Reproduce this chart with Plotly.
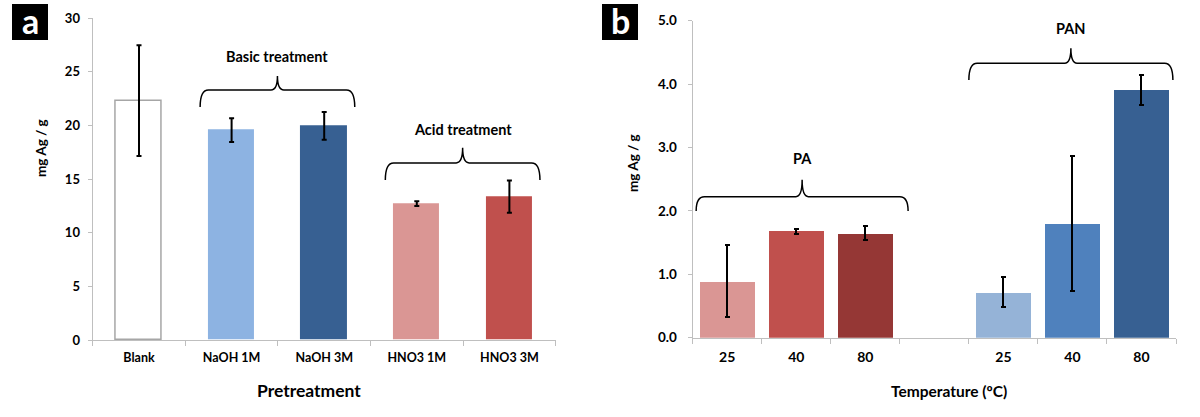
import plotly.graph_objects as go

# ---------------- data ----------------
a_categories = ["Blank", "NaOH 1M", "NaOH 3M", "HNO3 1M", "HNO3 3M"]
a_values = [22.3, 19.55, 19.95, 12.7, 13.35]
a_errors = [5.15, 1.1, 1.3, 0.22, 1.5]
a_colors = ["#FFFFFF", "#8DB3E2", "#376092", "#DA9694", "#C0504D"]

b_labels = ["25", "40", "80", "", "25", "40", "80"]
pa_values = [0.89, 1.68, 1.645]
pa_errors = [0.57, 0.04, 0.11]
pa_colors = ["#DA9694", "#C0504D", "#953735"]
pan_values = [0.715, 1.80, 3.905]
pan_errors = [0.235, 1.065, 0.24]
pan_colors = ["#95B3D7", "#4F81BD", "#376092"]

a_yticks = [0, 5, 10, 15, 20, 25, 30]
b_yticks = [0, 1, 2, 3, 4, 5]

FONT = "Lato"
AXIS_GRAY = "#bfbfbf"

fig = go.Figure()

# panel a bars
a_x = list(range(len(a_categories)))
fig.add_trace(go.Bar(
    x=a_x, y=a_values, width=0.5,
    marker=dict(color=a_colors,
                line=dict(color=["#a6a6a6", "rgba(0,0,0,0)", "rgba(0,0,0,0)", "rgba(0,0,0,0)", "rgba(0,0,0,0)"],
                          width=1.5)),
    error_y=dict(type="data", array=a_errors, color="black", thickness=2, width=2.5),
    xaxis="x", yaxis="y", showlegend=False, hoverinfo="skip"))

# panel b bars
pa_x = [0, 1, 2]
pan_x = [4, 5, 6]
fig.add_trace(go.Bar(
    x=pa_x, y=pa_values, width=0.8, marker=dict(color=pa_colors, line=dict(width=0)),
    error_y=dict(type="data", array=pa_errors, color="black", thickness=2, width=2.5),
    xaxis="x2", yaxis="y2", showlegend=False, hoverinfo="skip"))
fig.add_trace(go.Bar(
    x=pan_x, y=pan_values, width=0.8, marker=dict(color=pan_colors, line=dict(width=0)),
    error_y=dict(type="data", array=pan_errors, color="black", thickness=2, width=2.5),
    xaxis="x2", yaxis="y2", showlegend=False, hoverinfo="skip"))


def brace(x0, x1, yend, ymid, ytop, rx, rc):
    xc = (x0 + x1) / 2
    return (f"M {x0},{yend} Q {x0},{ymid} {x0 + rx},{ymid} "
            f"L {xc - rc},{ymid} Q {xc},{ymid} {xc},{ytop} "
            f"Q {xc},{ymid} {xc + rc},{ymid} "
            f"L {x1 - rx},{ymid} Q {x1},{ymid} {x1},{yend}")


shapes = [
    dict(type="path", xref="x", yref="y",
         path=brace(0.66, 2.33, 21.7, 23.3, 24.6, 0.09, 0.07),
         line=dict(color="black", width=1.5)),
    dict(type="path", xref="x", yref="y",
         path=brace(2.66, 4.33, 14.9, 16.5, 17.9, 0.09, 0.07),
         line=dict(color="black", width=1.5)),
    dict(type="path", xref="x2", yref="y2",
         path=brace(-0.45, 2.62, 2.0, 2.225, 2.49, 0.12, 0.09),
         line=dict(color="black", width=1.5)),
    dict(type="path", xref="x2", yref="y2",
         path=brace(3.50, 6.455, 4.065, 4.33, 4.565, 0.12, 0.09),
         line=dict(color="black", width=1.5)),
    # panel letter boxes
    dict(type="rect", xref="paper", yref="paper", layer="below",
         x0=12 / 1200, x1=48 / 1200, y0=1 - 40 / 417, y1=1 - 4 / 417,
         fillcolor="black", line=dict(width=0)),
    dict(type="rect", xref="paper", yref="paper", layer="below",
         x0=602 / 1200, x1=638 / 1200, y0=1 - 40 / 417, y1=1 - 4 / 417,
         fillcolor="black", line=dict(width=0)),
]

bold = dict(family=FONT, color="black")


def paper_text(text, px, py, size, color="black", angle=0):
    return dict(text=text, x=px / 1200, y=1 - py / 417, xref="paper", yref="paper",
                xanchor="center", yanchor="middle", showarrow=False, textangle=angle,
                font=dict(size=size, family=FONT, color=color))


annotations = [
    dict(text="<b>Basic treatment</b>", x=1.495, y=26.4, xref="x", yref="y",
         xanchor="center", yanchor="middle",
         showarrow=False, font=dict(size=14.5, **bold)),
    dict(text="<b>Acid treatment</b>", x=3.495, y=19.6, xref="x", yref="y",
         xanchor="center", yanchor="middle",
         showarrow=False, font=dict(size=14.5, **bold)),
    dict(text="<b>PA</b>", x=1.085, y=2.82, xref="x2", yref="y2",
         xanchor="center", yanchor="middle",
         showarrow=False, font=dict(size=14.5, **bold)),
    dict(text="<b>PAN</b>", x=4.98, y=4.88, xref="x2", yref="y2",
         xanchor="center", yanchor="middle",
         showarrow=False, font=dict(size=14.5, **bold)),
    paper_text("<b>a</b>", 30, 20, 34, "white"),
    paper_text("<b>b</b>", 620, 20, 34, "white"),
    paper_text("<b>mg Ag / g</b>", 41, 148, 13.5, angle=-90),
    paper_text("<b>mg Ag / g</b>", 633, 163, 13.5, angle=-90),
    paper_text("<b>Pretreatment</b>", 309, 390, 17.5),
    paper_text("<b>Temperature (ºC)</b>", 949, 391, 15.5),
]

common_axis = dict(automargin=False, showgrid=False, zeroline=False,
                   showline=True, linecolor=AXIS_GRAY, linewidth=1.3)

fig.update_layout(
    template="none",
    width=1200, height=417,
    margin=dict(l=0, r=0, t=0, b=0, autoexpand=False),
    paper_bgcolor="white", plot_bgcolor="white",
    bargap=0,
    shapes=shapes, annotations=annotations,
    xaxis=dict(domain=[92.7 / 1200, 555.7 / 1200], anchor="y",
               range=[-0.5, 4.5], tickmode="array", tickvals=a_x,
               ticktext=[f"<b>{c}</b>" for c in a_categories],
               ticks="", tickfont=dict(family=FONT, size=12.5, color="black"),
               ticklabelstandoff=6,
               minor=dict(tickmode="array", tickvals=[i - 0.5 for i in range(6)],
                          ticks="outside", ticklen=5, tickcolor=AXIS_GRAY, showgrid=False),
               **common_axis),
    yaxis=dict(domain=[(417 - 340) / 417, (417 - 18) / 417], anchor="x",
               range=[0, 30], tickmode="array", tickvals=a_yticks,
               ticktext=[f"<b>{v}</b>" for v in a_yticks],
               ticks="outside", ticklen=4, tickcolor=AXIS_GRAY,
               tickfont=dict(family=FONT, size=13, color="black"),
               ticklabelstandoff=5, **common_axis),
    xaxis2=dict(domain=[692.7 / 1200, 1176 / 1200], anchor="y2",
                range=[-0.5, 6.5], tickmode="array", tickvals=list(range(7)),
                ticktext=[f"<b>{t}</b>" if t else "" for t in b_labels],
                ticks="", tickfont=dict(family=FONT, size=14, color="black"),
                ticklabelstandoff=6,
                minor=dict(tickmode="array", tickvals=[i - 0.5 for i in range(8)],
                           ticks="outside", ticklen=5, tickcolor=AXIS_GRAY, showgrid=False),
                **common_axis),
    yaxis2=dict(domain=[(417 - 337.7) / 417, (417 - 20.7) / 417], anchor="x2",
                range=[0, 5], tickmode="array", tickvals=b_yticks,
                ticktext=[f"<b>{v:.1f}</b>" for v in b_yticks],
                ticks="outside", ticklen=4, tickcolor=AXIS_GRAY,
                tickfont=dict(family=FONT, size=13.5, color="black"),
                ticklabelstandoff=8, **common_axis),
)

fig.write_html("out.html",
               config={"displayModeBar": False},
               post_script="document.body.style.margin='0px';document.body.style.padding='0px';")
